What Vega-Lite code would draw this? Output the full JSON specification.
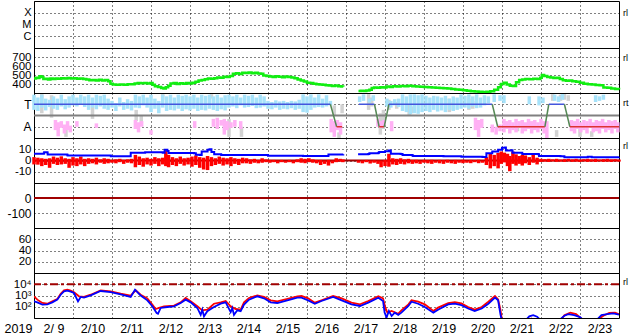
{
"$schema": "https://vega.github.io/schema/vega-lite/v6.json",
"padding": {"left": 3, "top": 0, "right": 14, "bottom": 0},
"spacing": 0,
"bounds": "flush",
"config": {
 "view": {"stroke": "black", "strokeWidth": 1},
 "axis": {"grid": true, "gridColor": "black", "gridDash": [1, 3], "gridOpacity": 1, "gridWidth": 1, "ticks": false, "domain": false, "labelFont": "Liberation Sans", "labelFontSize": 12, "labelColor": "black", "labelPadding": 3, "labelOverlap": false, "labelFlush": false, "labelBound": false},
 "text": {"font": "Liberation Sans"}
},
"vconcat": [
 {
  "width": 585, "height": 47,
  "layer": [
   {"data": {"values": [{"day": 15, "v": 0.0001, "t": "rl"}]},
    "mark": {"type": "text", "align": "left", "dx": 4, "baseline": "middle", "fontSize": 9},
    "encoding": {
     "x": {"field": "day", "type": "quantitative", "scale": {"domain": [0, 15], "nice": false, "zero": false}, "axis": {"values": [0,1,2,3,4,5,6,7,8,9,10,11,12,13,14], "labels": false, "title": null}},
     "y": {"field": "v", "type": "quantitative", "scale": {"type": "log", "domain": [1e-7, 0.001], "nice": false}, "axis": {"values": [0.0001, 0.00001, 0.000001], "labelOverlap": false, "labelFontSize": 11, "labelExpr": "datum.value > 0.00005 ? 'X' : datum.value > 0.000005 ? 'M' : 'C'", "title": null}},
     "text": {"field": "t"}}}
  ]
 },
 {
  "width": 585, "height": 45,
  "layer": [
   {"data": {"values": [
     {"day":0.00,"v":462,"s":1},{"day":0.05,"v":470,"s":1},{"day":0.10,"v":468,"s":1},{"day":0.14,"v":485,"s":1},{"day":0.19,"v":478,"s":1},{"day":0.24,"v":455,"s":1},{"day":0.30,"v":458,"s":1},{"day":0.36,"v":450,"s":1},{"day":0.42,"v":462,"s":1},{"day":0.48,"v":455,"s":1},{"day":0.55,"v":460,"s":1},{"day":0.62,"v":458,"s":1},{"day":0.70,"v":465,"s":1},{"day":0.78,"v":462,"s":1},{"day":0.86,"v":466,"s":1},{"day":0.94,"v":460,"s":1},{"day":1.02,"v":463,"s":1},{"day":1.10,"v":458,"s":1},{"day":1.18,"v":462,"s":1},{"day":1.26,"v":455,"s":1},{"day":1.34,"v":450,"s":1},{"day":1.42,"v":442,"s":1},{"day":1.50,"v":445,"s":1},{"day":1.58,"v":438,"s":1},{"day":1.66,"v":446,"s":1},{"day":1.74,"v":440,"s":1},{"day":1.82,"v":444,"s":1},{"day":1.90,"v":430,"s":1},{"day":1.96,"v":402,"s":1},{"day":2.02,"v":395,"s":1},{"day":2.10,"v":392,"s":1},{"day":2.20,"v":395,"s":1},{"day":2.30,"v":392,"s":1},{"day":2.40,"v":396,"s":1},{"day":2.50,"v":398,"s":1},{"day":2.58,"v":405,"s":1},{"day":2.66,"v":410,"s":1},{"day":2.74,"v":408,"s":1},{"day":2.82,"v":412,"s":1},{"day":2.90,"v":405,"s":1},{"day":2.98,"v":410,"s":1},{"day":3.04,"v":392,"s":1},{"day":3.10,"v":375,"s":1},{"day":3.18,"v":368,"s":1},{"day":3.26,"v":355,"s":1},{"day":3.32,"v":350,"s":1},{"day":3.38,"v":365,"s":1},{"day":3.44,"v":380,"s":1},{"day":3.50,"v":405,"s":1},{"day":3.58,"v":412,"s":1},{"day":3.66,"v":400,"s":1},{"day":3.74,"v":408,"s":1},{"day":3.82,"v":402,"s":1},{"day":3.90,"v":410,"s":1},{"day":3.98,"v":405,"s":1},{"day":4.06,"v":415,"s":1},{"day":4.14,"v":425,"s":1},{"day":4.22,"v":438,"s":1},{"day":4.30,"v":445,"s":1},{"day":4.38,"v":452,"s":1},{"day":4.46,"v":460,"s":1},{"day":4.54,"v":458,"s":1},{"day":4.62,"v":465,"s":1},{"day":4.70,"v":472,"s":1},{"day":4.78,"v":470,"s":1},{"day":4.86,"v":480,"s":1},{"day":4.94,"v":478,"s":1},{"day":5.02,"v":490,"s":1},{"day":5.10,"v":515,"s":1},{"day":5.18,"v":520,"s":1},{"day":5.26,"v":512,"s":1},{"day":5.34,"v":525,"s":1},{"day":5.42,"v":522,"s":1},{"day":5.50,"v":528,"s":1},{"day":5.58,"v":520,"s":1},{"day":5.66,"v":525,"s":1},{"day":5.74,"v":518,"s":1},{"day":5.82,"v":515,"s":1},{"day":5.88,"v":495,"s":1},{"day":5.96,"v":488,"s":1},{"day":6.04,"v":482,"s":1},{"day":6.12,"v":478,"s":1},{"day":6.20,"v":485,"s":1},{"day":6.28,"v":480,"s":1},{"day":6.36,"v":475,"s":1},{"day":6.44,"v":482,"s":1},{"day":6.52,"v":478,"s":1},{"day":6.60,"v":472,"s":1},{"day":6.68,"v":465,"s":1},{"day":6.76,"v":450,"s":1},{"day":6.84,"v":440,"s":1},{"day":6.92,"v":428,"s":1},{"day":7.00,"v":415,"s":1},{"day":7.08,"v":410,"s":1},{"day":7.16,"v":402,"s":1},{"day":7.24,"v":398,"s":1},{"day":7.32,"v":395,"s":1},{"day":7.40,"v":392,"s":1},{"day":7.48,"v":385,"s":1},{"day":7.56,"v":382,"s":1},{"day":7.64,"v":378,"s":1},{"day":7.72,"v":382,"s":1},{"day":7.80,"v":375,"s":1},{"day":7.88,"v":372,"s":1},{"day":7.93,"v":370,"s":1},
     {"day":8.32,"v":322,"s":2},{"day":8.38,"v":325,"s":2},{"day":8.45,"v":322,"s":2},{"day":8.52,"v":328,"s":2},{"day":8.60,"v":335,"s":2},{"day":8.66,"v":355,"s":2},{"day":8.72,"v":362,"s":2},{"day":8.80,"v":358,"s":2},{"day":8.88,"v":365,"s":2},{"day":8.96,"v":362,"s":2},{"day":9.04,"v":372,"s":2},{"day":9.12,"v":368,"s":2},{"day":9.20,"v":375,"s":2},{"day":9.30,"v":372,"s":2},{"day":9.40,"v":378,"s":2},{"day":9.50,"v":375,"s":2},{"day":9.60,"v":380,"s":2},{"day":9.70,"v":376,"s":2},{"day":9.80,"v":372,"s":2},{"day":9.90,"v":370,"s":2},{"day":10.00,"v":368,"s":2},{"day":10.10,"v":365,"s":2},{"day":10.20,"v":362,"s":2},{"day":10.30,"v":358,"s":2},{"day":10.40,"v":355,"s":2},{"day":10.50,"v":352,"s":2},{"day":10.60,"v":350,"s":2},{"day":10.70,"v":345,"s":2},{"day":10.80,"v":340,"s":2},{"day":10.90,"v":335,"s":2},{"day":11.00,"v":330,"s":2},{"day":11.10,"v":325,"s":2},{"day":11.20,"v":320,"s":2},{"day":11.30,"v":318,"s":2},{"day":11.40,"v":315,"s":2},{"day":11.50,"v":312,"s":2},{"day":11.60,"v":315,"s":2},{"day":11.70,"v":320,"s":2},{"day":11.80,"v":335,"s":2},{"day":11.90,"v":365,"s":2},{"day":11.97,"v":400,"s":2},{"day":12.04,"v":415,"s":2},{"day":12.12,"v":395,"s":2},{"day":12.20,"v":380,"s":2},{"day":12.28,"v":378,"s":2},{"day":12.36,"v":420,"s":2},{"day":12.44,"v":445,"s":2},{"day":12.52,"v":450,"s":2},{"day":12.60,"v":455,"s":2},{"day":12.70,"v":452,"s":2},{"day":12.80,"v":458,"s":2},{"day":12.90,"v":455,"s":2},{"day":12.98,"v":470,"s":2},{"day":13.02,"v":500,"s":2},{"day":13.08,"v":490,"s":2},{"day":13.16,"v":478,"s":2},{"day":13.24,"v":472,"s":2},{"day":13.32,"v":468,"s":2},{"day":13.40,"v":470,"s":2},{"day":13.48,"v":455,"s":2},{"day":13.56,"v":442,"s":2},{"day":13.64,"v":435,"s":2},{"day":13.72,"v":440,"s":2},{"day":13.80,"v":430,"s":2},{"day":13.90,"v":425,"s":2},{"day":14.00,"v":415,"s":2},{"day":14.10,"v":402,"s":2},{"day":14.20,"v":398,"s":2},{"day":14.30,"v":395,"s":2},{"day":14.40,"v":390,"s":2},{"day":14.50,"v":385,"s":2},{"day":14.60,"v":362,"s":2},{"day":14.70,"v":358,"s":2},{"day":14.80,"v":350,"s":2},{"day":14.90,"v":345,"s":2},{"day":15.00,"v":338,"s":2}
    ]},
    "mark": {"type": "line", "color": "#11ee11", "strokeWidth": 2.5, "interpolate": "step-after"},
    "encoding": {
     "x": {"field": "day", "type": "quantitative", "scale": {"domain": [0, 15], "nice": false, "zero": false}, "axis": {"values": [0,1,2,3,4,5,6,7,8,9,10,11,12,13,14], "labels": false, "title": null}},
     "y": {"field": "v", "type": "quantitative", "scale": {"domain": [300, 800], "nice": false, "zero": false}, "axis": {"values": [400, 500, 600, 700], "labelOverlap": false, "labelFontSize": 11.5, "title": null}},
     "detail": {"field": "s"}}},
   {"data": {"values": [{"day": 15, "v": 690, "t": "rl"}]},
    "mark": {"type": "text", "align": "left", "dx": 4, "baseline": "middle", "fontSize": 9},
    "encoding": {"x": {"field": "day", "type": "quantitative"}, "y": {"field": "v", "type": "quantitative", "axis": {"values": [400, 500, 600, 700], "labelOverlap": false, "labelFontSize": 11.5, "title": null}}, "text": {"field": "t"}}}
  ]
 },
 {
  "width": 585, "height": 45,
  "layer": [
   {"data": {"values": [
     {"day":0.2,"lo":0.2,"hi":1.9,"c":"g"},{"day":0.45,"lo":-0.2,"hi":1.8,"c":"g"},{"day":0.82,"lo":-1.9,"hi":-1.0,"c":"g"},{"day":1.5,"lo":-0.3,"hi":1.0,"c":"g"},{"day":2.62,"lo":-0.5,"hi":0.5,"c":"g"},{"day":2.75,"lo":-0.9,"hi":0.0,"c":"g"},{"day":3.3,"lo":1.4,"hi":1.9,"c":"g"},{"day":4.55,"lo":1.5,"hi":1.9,"c":"g"},{"day":5.0,"lo":-1.9,"hi":-0.3,"c":"g"},{"day":5.32,"lo":-1.9,"hi":-1.0,"c":"g"},{"day":7.7,"lo":0.0,"hi":0.9,"c":"g"},{"day":7.82,"lo":-2.0,"hi":-1.5,"c":"g"},{"day":7.9,"lo":0.2,"hi":1.0,"c":"g"},{"day":8.58,"lo":0.5,"hi":1.9,"c":"g"},{"day":8.66,"lo":0.8,"hi":1.6,"c":"g"},{"day":8.88,"lo":-1.7,"hi":0.2,"c":"g"},{"day":8.96,"lo":-1.2,"hi":0.5,"c":"g"},{"day":9.1,"lo":0.5,"hi":1.4,"c":"g"},{"day":9.3,"lo":0.6,"hi":1.2,"c":"g"},{"day":9.62,"lo":0.0,"hi":1.0,"c":"g"},{"day":9.68,"lo":0.2,"hi":0.8,"c":"g"},{"day":10.65,"lo":0.3,"hi":1.5,"c":"g"},{"day":10.75,"lo":0.5,"hi":1.2,"c":"g"},{"day":11.15,"lo":0.5,"hi":1.5,"c":"g"},{"day":11.25,"lo":0.6,"hi":1.3,"c":"g"},{"day":12.4,"lo":-1.4,"hi":-1.0,"c":"g"},{"day":13.3,"lo":1.3,"hi":1.9,"c":"g"},{"day":13.4,"lo":-1.9,"hi":-1.3,"c":"g"},{"day":13.5,"lo":1.3,"hi":1.85,"c":"g"},{"day":13.6,"lo":1.4,"hi":1.9,"c":"g"},{"day":13.7,"lo":1.3,"hi":1.8,"c":"g"},{"day":14.0,"lo":-1.9,"hi":-0.9,"c":"g"},{"day":14.3,"lo":-1.9,"hi":-1.4,"c":"g"},
     {"day":0.0,"lo":0.5,"hi":1.85,"c":"b"},{"day":0.1,"lo":0.4,"hi":1.6,"c":"b"},{"day":0.2,"lo":0.7,"hi":1.85,"c":"b"},{"day":0.3,"lo":0.45,"hi":1.5,"c":"b"},{"day":0.4,"lo":0.75,"hi":1.4,"c":"b"},{"day":0.5,"lo":0.6,"hi":1.7,"c":"b"},{"day":0.6,"lo":0.5,"hi":1.5,"c":"b"},{"day":0.7,"lo":0.8,"hi":1.85,"c":"b"},{"day":0.8,"lo":0.55,"hi":1.45,"c":"b"},{"day":0.9,"lo":0.7,"hi":1.7,"c":"b"},{"day":1.0,"lo":0.9,"hi":1.85,"c":"b"},{"day":1.1,"lo":0.8,"hi":1.6,"c":"b"},{"day":1.2,"lo":1.0,"hi":1.85,"c":"b"},{"day":1.3,"lo":0.75,"hi":1.7,"c":"b"},{"day":1.4,"lo":0.5,"hi":1.85,"c":"b"},{"day":1.5,"lo":0.7,"hi":1.6,"c":"b"},{"day":1.6,"lo":0.55,"hi":1.85,"c":"b"},{"day":1.7,"lo":0.8,"hi":1.75,"c":"b"},{"day":1.8,"lo":0.6,"hi":1.85,"c":"b"},{"day":1.9,"lo":0.5,"hi":1.5,"c":"b"},{"day":2.0,"lo":0.7,"hi":1.3,"c":"b"},{"day":2.1,"lo":0.4,"hi":1.1,"c":"b"},{"day":2.2,"lo":0.8,"hi":1.6,"c":"b"},{"day":2.3,"lo":0.5,"hi":1.2,"c":"b"},{"day":2.4,"lo":0.6,"hi":1.45,"c":"b"},{"day":2.5,"lo":0.45,"hi":1.3,"c":"b"},{"day":2.6,"lo":0.7,"hi":1.85,"c":"b"},{"day":2.7,"lo":0.65,"hi":1.7,"c":"b"},{"day":2.8,"lo":0.9,"hi":1.85,"c":"b"},{"day":2.9,"lo":0.7,"hi":1.6,"c":"b"},{"day":3.0,"lo":0.3,"hi":1.85,"c":"b"},{"day":3.1,"lo":0.6,"hi":1.5,"c":"b"},{"day":3.2,"lo":0.2,"hi":1.3,"c":"b"},{"day":3.3,"lo":0.7,"hi":1.85,"c":"b"},{"day":3.4,"lo":0.4,"hi":1.7,"c":"b"},{"day":3.5,"lo":0.5,"hi":1.85,"c":"b"},{"day":3.6,"lo":0.45,"hi":1.6,"c":"b"},{"day":3.7,"lo":0.6,"hi":1.85,"c":"b"},{"day":3.8,"lo":0.4,"hi":1.75,"c":"b"},{"day":3.9,"lo":0.55,"hi":1.85,"c":"b"},{"day":4.0,"lo":0.45,"hi":1.7,"c":"b"},{"day":4.1,"lo":0.6,"hi":1.85,"c":"b"},{"day":4.2,"lo":0.4,"hi":1.6,"c":"b"},{"day":4.3,"lo":0.5,"hi":1.85,"c":"b"},{"day":4.4,"lo":0.45,"hi":1.75,"c":"b"},{"day":4.5,"lo":0.6,"hi":1.85,"c":"b"},{"day":4.6,"lo":0.5,"hi":1.7,"c":"b"},{"day":4.7,"lo":0.4,"hi":1.85,"c":"b"},{"day":4.8,"lo":0.55,"hi":1.6,"c":"b"},{"day":4.9,"lo":0.45,"hi":1.8,"c":"b"},{"day":5.0,"lo":0.7,"hi":1.85,"c":"b"},{"day":5.1,"lo":0.8,"hi":1.7,"c":"b"},{"day":5.2,"lo":0.65,"hi":1.85,"c":"b"},{"day":5.3,"lo":0.9,"hi":1.6,"c":"b"},{"day":5.4,"lo":0.7,"hi":1.85,"c":"b"},{"day":5.5,"lo":0.75,"hi":1.75,"c":"b"},{"day":5.6,"lo":0.85,"hi":1.85,"c":"b"},{"day":5.7,"lo":0.65,"hi":1.6,"c":"b"},{"day":5.8,"lo":0.7,"hi":1.85,"c":"b"},{"day":5.9,"lo":0.8,"hi":1.7,"c":"b"},{"day":6.0,"lo":0.6,"hi":1.3,"c":"b"},{"day":6.1,"lo":0.55,"hi":1.2,"c":"b"},{"day":6.2,"lo":0.7,"hi":1.35,"c":"b"},{"day":6.3,"lo":0.5,"hi":1.25,"c":"b"},{"day":6.4,"lo":0.6,"hi":1.3,"c":"b"},{"day":6.5,"lo":0.55,"hi":1.2,"c":"b"},{"day":6.6,"lo":0.65,"hi":1.3,"c":"b"},{"day":6.7,"lo":0.5,"hi":1.25,"c":"b"},{"day":6.8,"lo":0.6,"hi":1.4,"c":"b"},{"day":6.9,"lo":0.3,"hi":1.88,"c":"b"},{"day":7.0,"lo":0.25,"hi":1.7,"c":"b"},{"day":7.1,"lo":0.5,"hi":1.88,"c":"b"},{"day":7.2,"lo":0.7,"hi":1.6,"c":"b"},{"day":7.3,"lo":0.75,"hi":1.88,"c":"b"},{"day":7.4,"lo":0.7,"hi":1.5,"c":"b"},{"day":7.5,"lo":0.8,"hi":1.8,"c":"b"},{"day":7.6,"lo":0.9,"hi":1.3,"c":"b"},{"day":8.35,"lo":1.2,"hi":1.7,"c":"b"},{"day":8.45,"lo":1.3,"hi":1.88,"c":"b"},{"day":8.6,"lo":1.15,"hi":1.5,"c":"b"},{"day":8.7,"lo":1.3,"hi":1.8,"c":"b"},{"day":9.05,"lo":0.8,"hi":1.5,"c":"b"},{"day":9.15,"lo":0.7,"hi":1.3,"c":"b"},{"day":9.25,"lo":0.9,"hi":1.45,"c":"b"},{"day":9.35,"lo":0.75,"hi":1.5,"c":"b"},{"day":9.45,"lo":0.4,"hi":1.88,"c":"b"},{"day":9.55,"lo":0.3,"hi":1.7,"c":"b"},{"day":9.65,"lo":0.1,"hi":1.88,"c":"b"},{"day":9.75,"lo":0.2,"hi":1.88,"c":"b"},{"day":9.85,"lo":0.15,"hi":1.8,"c":"b"},{"day":9.95,"lo":0.3,"hi":1.88,"c":"b"},{"day":10.05,"lo":0.4,"hi":1.75,"c":"b"},{"day":10.15,"lo":0.3,"hi":1.6,"c":"b"},{"day":10.25,"lo":0.5,"hi":1.75,"c":"b"},{"day":10.35,"lo":0.35,"hi":1.7,"c":"b"},{"day":10.45,"lo":0.45,"hi":1.6,"c":"b"},{"day":10.55,"lo":0.3,"hi":1.75,"c":"b"},{"day":10.65,"lo":0.5,"hi":1.5,"c":"b"},{"day":10.75,"lo":0.4,"hi":1.7,"c":"b"},{"day":10.85,"lo":0.5,"hi":1.6,"c":"b"},{"day":10.95,"lo":0.6,"hi":1.88,"c":"b"},{"day":11.05,"lo":0.7,"hi":1.75,"c":"b"},{"day":11.15,"lo":0.6,"hi":1.88,"c":"b"},{"day":11.25,"lo":0.8,"hi":1.7,"c":"b"},{"day":11.35,"lo":0.65,"hi":1.88,"c":"b"},{"day":11.45,"lo":0.7,"hi":1.6,"c":"b"},{"day":11.55,"lo":0.9,"hi":1.8,"c":"b"},{"day":11.65,"lo":1.1,"hi":1.7,"c":"b"},{"day":11.8,"lo":1.2,"hi":1.88,"c":"b"},{"day":11.95,"lo":1.3,"hi":1.8,"c":"b"},{"day":12.05,"lo":1.1,"hi":1.8,"c":"b"},{"day":12.7,"lo":1.0,"hi":1.7,"c":"b"},{"day":12.95,"lo":0.9,"hi":1.7,"c":"b"},{"day":13.05,"lo":1.1,"hi":1.6,"c":"b"},{"day":13.35,"lo":1.3,"hi":1.85,"c":"b"},{"day":13.45,"lo":1.2,"hi":1.7,"c":"b"},{"day":13.55,"lo":1.4,"hi":1.9,"c":"b"},{"day":14.4,"lo":1.2,"hi":1.8,"c":"b"},{"day":14.5,"lo":1.3,"hi":1.7,"c":"b"},{"day":14.6,"lo":1.4,"hi":1.85,"c":"b"},
     {"day":0.55,"lo":-1.3,"hi":-0.4,"c":"p"},{"day":0.62,"lo":-1.85,"hi":-0.6,"c":"p"},{"day":0.7,"lo":-1.1,"hi":-0.5,"c":"p"},{"day":0.78,"lo":-1.6,"hi":-0.8,"c":"p"},{"day":0.86,"lo":-1.3,"hi":-0.5,"c":"p"},{"day":0.93,"lo":-1.5,"hi":-0.9,"c":"p"},{"day":1.1,"lo":-1.0,"hi":-0.5,"c":"p"},{"day":1.6,"lo":-1.1,"hi":-0.7,"c":"p"},{"day":2.6,"lo":-1.2,"hi":-0.4,"c":"p"},{"day":2.68,"lo":-1.5,"hi":-0.6,"c":"p"},{"day":2.76,"lo":-1.0,"hi":-0.5,"c":"p"},{"day":3.0,"lo":-1.7,"hi":-1.3,"c":"p"},{"day":4.12,"lo":-1.1,"hi":-0.5,"c":"p"},{"day":4.6,"lo":-1.0,"hi":-0.3,"c":"p"},{"day":4.7,"lo":-1.2,"hi":-0.2,"c":"p"},{"day":4.8,"lo":-0.9,"hi":-0.4,"c":"p"},{"day":4.88,"lo":-1.7,"hi":-0.3,"c":"p"},{"day":4.95,"lo":-1.3,"hi":-0.5,"c":"p"},{"day":5.05,"lo":-1.1,"hi":-0.6,"c":"p"},{"day":5.15,"lo":-1.0,"hi":-0.4,"c":"p"},{"day":5.3,"lo":-1.2,"hi":-0.5,"c":"p"},{"day":7.62,"lo":-1.5,"hi":-0.3,"c":"p"},{"day":7.7,"lo":-1.9,"hi":-0.5,"c":"p"},{"day":7.78,"lo":-1.3,"hi":-0.4,"c":"p"},{"day":7.86,"lo":-1.7,"hi":-0.6,"c":"p"},{"day":8.82,"lo":-1.0,"hi":-0.3,"c":"p"},{"day":8.9,"lo":-1.1,"hi":-0.5,"c":"p"},{"day":8.97,"lo":-0.9,"hi":-0.4,"c":"p"},{"day":9.17,"lo":-1.4,"hi":-0.5,"c":"p"},{"day":11.32,"lo":-1.3,"hi":-0.2,"c":"p"},{"day":11.4,"lo":-1.9,"hi":-0.4,"c":"p"},{"day":11.48,"lo":-1.1,"hi":-0.3,"c":"p"},{"day":11.75,"lo":-1.5,"hi":-0.8,"c":"p"},{"day":11.85,"lo":-1.7,"hi":-1.0,"c":"p"},{"day":11.95,"lo":-1.4,"hi":-0.8,"c":"p"},{"day":12.05,"lo":-1.5,"hi":-0.3,"c":"p"},{"day":12.12,"lo":-1.2,"hi":-0.5,"c":"p"},{"day":12.2,"lo":-1.6,"hi":-0.4,"c":"p"},{"day":12.28,"lo":-1.3,"hi":-0.6,"c":"p"},{"day":12.36,"lo":-1.5,"hi":-0.3,"c":"p"},{"day":12.44,"lo":-1.1,"hi":-0.5,"c":"p"},{"day":12.52,"lo":-1.6,"hi":-0.4,"c":"p"},{"day":12.6,"lo":-1.4,"hi":-0.6,"c":"p"},{"day":12.68,"lo":-1.2,"hi":-0.3,"c":"p"},{"day":12.76,"lo":-1.6,"hi":-0.5,"c":"p"},{"day":12.84,"lo":-1.3,"hi":-0.4,"c":"p"},{"day":12.92,"lo":-1.5,"hi":-0.6,"c":"p"},{"day":13.0,"lo":-1.2,"hi":-0.3,"c":"p"},{"day":13.08,"lo":-1.6,"hi":-0.5,"c":"p"},{"day":13.15,"lo":-2.0,"hi":-0.5,"c":"p"},{"day":13.78,"lo":-1.4,"hi":-0.4,"c":"p"},{"day":13.86,"lo":-1.6,"hi":-0.5,"c":"p"},{"day":13.94,"lo":-1.2,"hi":-0.3,"c":"p"},{"day":14.02,"lo":-1.5,"hi":-0.6,"c":"p"},{"day":14.1,"lo":-1.3,"hi":-0.4,"c":"p"},{"day":14.18,"lo":-1.6,"hi":-0.5,"c":"p"},{"day":14.26,"lo":-1.1,"hi":-0.3,"c":"p"},{"day":14.34,"lo":-1.5,"hi":-0.6,"c":"p"},{"day":14.42,"lo":-1.4,"hi":-0.4,"c":"p"},{"day":14.5,"lo":-1.6,"hi":-0.5,"c":"p"},{"day":14.58,"lo":-1.2,"hi":-0.3,"c":"p"},{"day":14.66,"lo":-1.5,"hi":-0.6,"c":"p"},{"day":14.74,"lo":-1.3,"hi":-0.4,"c":"p"},{"day":14.82,"lo":-1.6,"hi":-0.5,"c":"p"},{"day":14.9,"lo":-1.2,"hi":-0.4,"c":"p"},{"day":14.97,"lo":-1.5,"hi":-0.6,"c":"p"}
    ]},
    "mark": {"type": "rule", "strokeWidth": 3.5},
    "encoding": {
     "x": {"field": "day", "type": "quantitative", "scale": {"domain": [0, 15], "nice": false, "zero": false}, "axis": {"values": [0,1,2,3,4,5,6,7,8,9,10,11,12,13,14], "labels": false, "title": null}},
     "y": {"field": "lo", "type": "quantitative", "scale": {"domain": [-2, 2], "nice": false, "zero": false}, "axis": {"values": [1, -1], "labelOverlap": false, "labelExpr": "datum.value > 0 ? 'T' : 'A'", "title": null}},
     "y2": {"field": "hi"},
     "color": {"field": "c", "type": "nominal", "scale": {"domain": ["g", "b", "p", "T", "A", "X"], "range": ["#d2d2d2", "#a6e2fa", "#ffb0f4", "#4455dd", "#dd3333", "#558855"]}, "legend": null}}},
   {"data": {"values": [{}]},
    "mark": {"type": "rule", "color": "#808080", "strokeWidth": 2},
    "encoding": {"y": {"datum": 0, "type": "quantitative", "axis": {"values": [1, -1], "labelOverlap": false, "labelExpr": "datum.value > 0 ? 'T' : 'A'", "title": null}}}},
   {"data": {"values": [
     {"day":0,"v":1,"s":1,"c":"T"},{"day":7.6,"v":1,"s":1,"c":"T"},
     {"day":7.6,"v":1,"s":2,"c":"X"},{"day":7.76,"v":-1,"s":2,"c":"X"},
     {"day":7.76,"v":-1,"s":3,"c":"A"},{"day":7.9,"v":-1,"s":3,"c":"A"},
     {"day":8.33,"v":1,"s":4,"c":"T"},{"day":8.73,"v":1,"s":4,"c":"T"},
     {"day":8.73,"v":1,"s":5,"c":"X"},{"day":8.85,"v":-1,"s":5,"c":"X"},
     {"day":8.85,"v":-1,"s":6,"c":"A"},{"day":8.98,"v":-1,"s":6,"c":"A"},
     {"day":8.98,"v":-1,"s":7,"c":"X"},{"day":9.1,"v":1,"s":7,"c":"X"},
     {"day":9.1,"v":1,"s":8,"c":"T"},{"day":11.75,"v":1,"s":8,"c":"T"},
     {"day":11.75,"v":1,"s":9,"c":"X"},{"day":11.89,"v":-1,"s":9,"c":"X"},
     {"day":11.89,"v":-1,"s":10,"c":"A"},{"day":13.1,"v":-1,"s":10,"c":"A"},
     {"day":13.1,"v":-1,"s":11,"c":"X"},{"day":13.2,"v":1,"s":11,"c":"X"},
     {"day":13.2,"v":1,"s":12,"c":"T"},{"day":13.6,"v":1,"s":12,"c":"T"},
     {"day":13.6,"v":1,"s":13,"c":"X"},{"day":13.74,"v":-1,"s":13,"c":"X"},
     {"day":13.74,"v":-1,"s":14,"c":"A"},{"day":15,"v":-1,"s":14,"c":"A"}
    ]},
    "mark": {"type": "line", "strokeWidth": 1.5},
    "encoding": {
     "x": {"field": "day", "type": "quantitative"},
     "y": {"field": "v", "type": "quantitative", "axis": {"values": [1, -1], "labelOverlap": false, "labelExpr": "datum.value > 0 ? 'T' : 'A'", "title": null}},
     "color": {"field": "c", "type": "nominal", "legend": null},
     "detail": {"field": "s"}}},
   {"data": {"values": [{"day": 15, "v": 1.1, "t": "rt"}]},
    "mark": {"type": "text", "align": "left", "dx": 4, "baseline": "middle", "fontSize": 9},
    "encoding": {"x": {"field": "day", "type": "quantitative"}, "y": {"field": "v", "type": "quantitative", "axis": {"values": [1, -1], "labelOverlap": false, "labelExpr": "datum.value > 0 ? 'T' : 'A'", "title": null}}, "text": {"field": "t"}}}
  ]
 },
 {
  "width": 585, "height": 45,
  "layer": [
   {"data": {"values": [{}]},
    "mark": {"type": "rule", "color": "#a00000", "strokeWidth": 2},
    "encoding": {"y": {"datum": 0, "type": "quantitative", "scale": {"domain": [-20, 20], "nice": false, "zero": false}, "axis": {"values": [10, 0, -10], "labelOverlap": false, "labelFontSize": 11.5, "labelExpr": "'' + datum.value", "title": null}}}},
   {"data": {"values": [
     {"day":0.0,"lo":-3.5,"hi":3.0},{"day":0.1,"lo":-3.7,"hi":2.5},{"day":0.2,"lo":-5.0,"hi":2.0},{"day":0.3,"lo":-4.0,"hi":1.5},{"day":0.4,"lo":-6.5,"hi":2.0},{"day":0.5,"lo":-3.0,"hi":3.5},{"day":0.6,"lo":-4.0,"hi":2.5},{"day":0.7,"lo":-3.5,"hi":3.7},{"day":0.8,"lo":-3.0,"hi":2.0},{"day":0.9,"lo":-6.5,"hi":1.5},{"day":1.0,"lo":-4.5,"hi":3.0},{"day":1.1,"lo":-5.0,"hi":2.0},{"day":1.2,"lo":-3.5,"hi":3.5},{"day":1.3,"lo":-5.0,"hi":1.5},{"day":1.4,"lo":-3.0,"hi":2.0},{"day":1.5,"lo":-2.5,"hi":1.5},{"day":1.6,"lo":-3.5,"hi":2.5},{"day":1.7,"lo":-2.0,"hi":1.0},{"day":1.8,"lo":-3.0,"hi":2.0},{"day":1.9,"lo":-2.5,"hi":1.5},{"day":2.0,"lo":-2.0,"hi":0.5},{"day":2.1,"lo":-2.5,"hi":1.0},{"day":2.2,"lo":-1.5,"hi":1.5},{"day":2.3,"lo":-3.0,"hi":0.5},{"day":2.4,"lo":-2.0,"hi":1.0},{"day":2.5,"lo":-2.5,"hi":1.5},{"day":2.6,"lo":-6.0,"hi":5.0},{"day":2.7,"lo":-4.0,"hi":3.5},{"day":2.8,"lo":-5.5,"hi":2.0},{"day":2.9,"lo":-3.5,"hi":2.5},{"day":3.0,"lo":-4.5,"hi":1.5},{"day":3.1,"lo":-3.0,"hi":3.0},{"day":3.2,"lo":-5.0,"hi":2.0},{"day":3.3,"lo":-3.5,"hi":2.5},{"day":3.38,"lo":-5.0,"hi":9.0},{"day":3.45,"lo":-6.0,"hi":5.0},{"day":3.55,"lo":-4.0,"hi":3.0},{"day":3.65,"lo":-5.0,"hi":2.0},{"day":3.75,"lo":-3.0,"hi":3.5},{"day":3.85,"lo":-4.5,"hi":2.0},{"day":3.95,"lo":-3.5,"hi":2.5},{"day":4.05,"lo":-5.5,"hi":3.5},{"day":4.15,"lo":-4.0,"hi":4.5},{"day":4.25,"lo":-6.5,"hi":3.0},{"day":4.35,"lo":-8.0,"hi":2.5},{"day":4.45,"lo":-8.5,"hi":4.0},{"day":4.55,"lo":-5.0,"hi":3.0},{"day":4.65,"lo":-4.0,"hi":2.0},{"day":4.75,"lo":-3.0,"hi":3.5},{"day":4.85,"lo":-4.5,"hi":2.5},{"day":4.95,"lo":-3.5,"hi":2.0},{"day":5.05,"lo":-5.0,"hi":3.0},{"day":5.15,"lo":-3.0,"hi":2.0},{"day":5.25,"lo":-4.0,"hi":1.5},{"day":5.35,"lo":-2.5,"hi":2.5},{"day":5.45,"lo":-2.5,"hi":2.0},{"day":5.55,"lo":-3.0,"hi":1.0},{"day":5.65,"lo":-2.0,"hi":1.5},{"day":5.75,"lo":-2.5,"hi":0.5},{"day":5.85,"lo":-2.0,"hi":2.0},{"day":5.95,"lo":-1.5,"hi":1.0},{"day":6.05,"lo":-2.0,"hi":0.5},{"day":6.15,"lo":-1.5,"hi":0.5},{"day":6.25,"lo":-2.5,"hi":0.0},{"day":6.35,"lo":-1.5,"hi":0.5},{"day":6.45,"lo":-2.0,"hi":-0.2},{"day":6.55,"lo":-1.5,"hi":0.5},{"day":6.65,"lo":-2.5,"hi":0.0},{"day":6.75,"lo":-1.5,"hi":1.0},{"day":6.85,"lo":-2.0,"hi":2.0},{"day":6.95,"lo":-2.4,"hi":1.5},{"day":7.05,"lo":-1.5,"hi":2.0},{"day":7.15,"lo":-2.0,"hi":1.0},{"day":7.25,"lo":-2.5,"hi":0.5},{"day":7.35,"lo":-4.0,"hi":0.5},{"day":7.45,"lo":-3.0,"hi":0.0},{"day":7.55,"lo":-4.5,"hi":0.5},{"day":7.65,"lo":-2.5,"hi":0.0},{"day":7.75,"lo":-1.5,"hi":2.0},{"day":7.85,"lo":-1.0,"hi":1.5},{"day":7.92,"lo":-1.5,"hi":1.0},
     {"day":8.32,"lo":-2.0,"hi":0.0},{"day":8.42,"lo":-2.5,"hi":0.0},{"day":8.52,"lo":-1.5,"hi":0.5},{"day":8.62,"lo":-2.7,"hi":0.0},{"day":8.72,"lo":-2.0,"hi":0.3},{"day":8.82,"lo":-3.0,"hi":0.0},{"day":8.9,"lo":-6.0,"hi":0.0},{"day":9.0,"lo":-5.0,"hi":0.5},{"day":9.1,"lo":-5.5,"hi":6.0},{"day":9.2,"lo":-3.5,"hi":2.0},{"day":9.3,"lo":-4.0,"hi":1.5},{"day":9.4,"lo":-3.0,"hi":2.0},{"day":9.5,"lo":-3.5,"hi":1.0},{"day":9.6,"lo":-2.5,"hi":1.5},{"day":9.7,"lo":-3.0,"hi":0.5},{"day":9.8,"lo":-2.5,"hi":0.6},{"day":9.9,"lo":-3.0,"hi":0.0},{"day":10.0,"lo":-2.0,"hi":0.5},{"day":10.1,"lo":-2.5,"hi":0.3},{"day":10.2,"lo":-3.0,"hi":0.6},{"day":10.3,"lo":-2.0,"hi":0.0},{"day":10.4,"lo":-2.5,"hi":0.5},{"day":10.5,"lo":-3.0,"hi":0.3},{"day":10.6,"lo":-2.0,"hi":0.6},{"day":10.7,"lo":-2.5,"hi":0.0},{"day":10.8,"lo":-3.0,"hi":0.5},{"day":10.9,"lo":-2.0,"hi":0.3},{"day":11.0,"lo":-2.4,"hi":0.6},{"day":11.1,"lo":-2.0,"hi":0.0},{"day":11.2,"lo":-2.4,"hi":0.5},{"day":11.3,"lo":-1.5,"hi":0.3},{"day":11.4,"lo":-2.4,"hi":0.6},{"day":11.5,"lo":-2.0,"hi":0.0},{"day":11.6,"lo":-4.0,"hi":3.0},{"day":11.7,"lo":-7.0,"hi":6.5},{"day":11.8,"lo":-5.0,"hi":5.0},{"day":11.9,"lo":-7.0,"hi":6.7},{"day":11.98,"lo":-3.0,"hi":8.0},{"day":12.06,"lo":-1.7,"hi":7.0},{"day":12.14,"lo":-5.0,"hi":6.0},{"day":12.2,"lo":-9.5,"hi":4.0},{"day":12.28,"lo":-3.0,"hi":8.0},{"day":12.36,"lo":-4.5,"hi":5.5},{"day":12.44,"lo":-3.0,"hi":4.0},{"day":12.52,"lo":-4.5,"hi":5.0},{"day":12.6,"lo":-2.5,"hi":4.5},{"day":12.7,"lo":-4.0,"hi":3.0},{"day":12.8,"lo":-2.0,"hi":5.5},{"day":12.9,"lo":-3.5,"hi":2.5},{"day":13.0,"lo":-1.3,"hi":1.5},{"day":13.1,"lo":-1.0,"hi":1.2},{"day":13.2,"lo":-1.3,"hi":1.5},{"day":13.3,"lo":-0.8,"hi":1.0},{"day":13.4,"lo":-1.2,"hi":1.5},{"day":13.5,"lo":-1.0,"hi":0.8},{"day":13.6,"lo":-1.3,"hi":1.2},{"day":13.7,"lo":-0.8,"hi":1.5},{"day":13.8,"lo":-1.2,"hi":1.0},{"day":13.9,"lo":-1.0,"hi":1.5},{"day":14.0,"lo":-1.3,"hi":0.8},{"day":14.1,"lo":-0.8,"hi":1.2},{"day":14.2,"lo":-1.2,"hi":1.5},{"day":14.3,"lo":-1.0,"hi":1.0},{"day":14.4,"lo":-1.3,"hi":1.5},{"day":14.5,"lo":-0.8,"hi":0.8},{"day":14.6,"lo":-1.2,"hi":1.2},{"day":14.7,"lo":-1.0,"hi":1.5},{"day":14.8,"lo":-1.3,"hi":1.0},{"day":14.9,"lo":-0.8,"hi":1.2},{"day":15.0,"lo":-1.0,"hi":0.8}
    ]},
    "mark": {"type": "rule", "color": "#ff0000", "strokeWidth": 3.5},
    "encoding": {
     "x": {"field": "day", "type": "quantitative", "scale": {"domain": [0, 15], "nice": false, "zero": false}, "axis": {"values": [0,1,2,3,4,5,6,7,8,9,10,11,12,13,14], "labels": false, "title": null}},
     "y": {"field": "lo", "type": "quantitative", "axis": {"values": [10, 0, -10], "labelOverlap": false, "labelFontSize": 11.5, "labelExpr": "'' + datum.value", "title": null}},
     "y2": {"field": "hi"}}},
   {"data": {"values": [
     {"day":0.0,"v":6.0,"s":1},{"day":0.25,"v":6.2,"s":1},{"day":0.26,"v":7.4,"s":1},{"day":0.34,"v":7.2,"s":1},{"day":0.35,"v":5.3,"s":1},{"day":0.85,"v":5.2,"s":1},{"day":0.86,"v":4.4,"s":1},{"day":1.9,"v":4.4,"s":1},{"day":1.97,"v":3.7,"s":1},{"day":2.4,"v":3.8,"s":1},{"day":2.48,"v":7.0,"s":1},{"day":2.6,"v":6.8,"s":1},{"day":2.85,"v":7.3,"s":1},{"day":3.3,"v":7.0,"s":1},{"day":3.35,"v":9.6,"s":1},{"day":3.42,"v":8.5,"s":1},{"day":3.45,"v":6.7,"s":1},{"day":4.1,"v":6.5,"s":1},{"day":4.15,"v":5.2,"s":1},{"day":4.25,"v":5.0,"s":1},{"day":4.3,"v":8.0,"s":1},{"day":4.45,"v":9.6,"s":1},{"day":4.5,"v":10.0,"s":1},{"day":4.55,"v":7.5,"s":1},{"day":4.62,"v":5.5,"s":1},{"day":4.8,"v":4.8,"s":1},{"day":5.9,"v":4.8,"s":1},{"day":6.0,"v":4.3,"s":1},{"day":6.9,"v":4.0,"s":1},{"day":7.5,"v":4.1,"s":1},{"day":7.55,"v":5.4,"s":1},{"day":7.93,"v":5.5,"s":1},
     {"day":8.31,"v":5.5,"s":2},{"day":8.57,"v":5.7,"s":2},{"day":8.6,"v":6.5,"s":2},{"day":8.83,"v":6.8,"s":2},{"day":8.85,"v":7.6,"s":2},{"day":9.0,"v":8.2,"s":2},{"day":9.1,"v":8.8,"s":2},{"day":9.15,"v":6.0,"s":2},{"day":9.4,"v":5.8,"s":2},{"day":9.45,"v":5.0,"s":2},{"day":9.7,"v":4.5,"s":2},{"day":9.72,"v":4.0,"s":2},{"day":10.5,"v":3.8,"s":2},{"day":10.96,"v":3.3,"s":2},{"day":11.5,"v":3.2,"s":2},{"day":11.6,"v":6.5,"s":2},{"day":11.75,"v":8.0,"s":2},{"day":11.9,"v":9.5,"s":2},{"day":12.0,"v":11.4,"s":2},{"day":12.08,"v":11.5,"s":2},{"day":12.1,"v":9.0,"s":2},{"day":12.25,"v":9.2,"s":2},{"day":12.27,"v":7.0,"s":2},{"day":12.5,"v":6.8,"s":2},{"day":12.52,"v":5.8,"s":2},{"day":12.93,"v":5.5,"s":2},{"day":12.95,"v":4.0,"s":2},{"day":13.5,"v":3.8,"s":2},{"day":13.6,"v":3.0,"s":2},{"day":14.2,"v":3.3,"s":2},{"day":14.3,"v":2.8,"s":2},{"day":15.0,"v":3.0,"s":2}
    ]},
    "mark": {"type": "line", "color": "#0000ff", "strokeWidth": 2, "interpolate": "step-after"},
    "encoding": {"x": {"field": "day", "type": "quantitative"}, "y": {"field": "v", "type": "quantitative", "axis": {"values": [10, 0, -10], "labelOverlap": false, "labelFontSize": 11.5, "labelExpr": "'' + datum.value", "title": null}}, "detail": {"field": "s"}}},
   {"data": {"values": [{"day": 15, "v": 13, "t": "rl"}]},
    "mark": {"type": "text", "align": "left", "dx": 4, "baseline": "middle", "fontSize": 9},
    "encoding": {"x": {"field": "day", "type": "quantitative"}, "y": {"field": "v", "type": "quantitative", "axis": {"values": [10, 0, -10], "labelOverlap": false, "labelFontSize": 11.5, "labelExpr": "'' + datum.value", "title": null}}, "text": {"field": "t"}}}
  ]
 },
 {
  "width": 585, "height": 45,
  "layer": [
   {"data": {"values": []},
    "mark": "point",
    "encoding": {
     "x": {"field": "day", "type": "quantitative", "scale": {"domain": [0, 15], "nice": false, "zero": false}, "axis": {"values": [0,1,2,3,4,5,6,7,8,9,10,11,12,13,14], "labels": false, "title": null}},
     "y": {"field": "v", "type": "quantitative", "scale": {"domain": [-200, 100], "nice": false, "zero": false}, "axis": {"values": [0, -100], "labelOverlap": false, "labelExpr": "'' + datum.value", "title": null}}}},
   {"data": {"values": [{}]},
    "mark": {"type": "rule", "color": "#a00000", "strokeWidth": 2},
    "encoding": {"y": {"datum": 0, "type": "quantitative", "axis": {"values": [0, -100], "labelOverlap": false, "labelExpr": "'' + datum.value", "title": null}}}}
  ]
 },
 {
  "width": 585, "height": 45,
  "layer": [
   {"data": {"values": []},
    "mark": "point",
    "encoding": {
     "x": {"field": "day", "type": "quantitative", "scale": {"domain": [0, 15], "nice": false, "zero": false}, "axis": {"values": [0,1,2,3,4,5,6,7,8,9,10,11,12,13,14], "labels": false, "title": null}},
     "y": {"field": "v", "type": "quantitative", "scale": {"domain": [0, 80], "nice": false, "zero": false}, "axis": {"values": [20, 40, 60], "labelOverlap": false, "labelFontSize": 11.5, "title": null}}}}
  ]
 },
 {
  "width": 585, "height": 45,
  "layer": [
   {"data": {"values": [{}]},
    "mark": {"type": "rule", "color": "#a00000", "strokeWidth": 2, "strokeDash": [8, 3, 3, 3]},
    "encoding": {"y": {"datum": 10000, "type": "quantitative", "scale": {"type": "log", "domain": [10, 100000], "nice": false}, "axis": {"values": [10000, 1000, 100], "labelOverlap": false, "labelFontSize": 11.5, "labelExpr": "datum.value == 10000 ? '10⁴' : datum.value == 1000 ? '10³' : '10²'", "title": null}}}},
   {"data": {"values": [
     {"day":0.0,"v":850},{"day":0.085,"v":427},{"day":0.214,"v":215},{"day":0.342,"v":186},{"day":0.47,"v":302},{"day":0.598,"v":490},{"day":0.684,"v":1445},{"day":0.769,"v":2880},{"day":0.855,"v":3300},{"day":0.94,"v":2690},{"day":1.026,"v":1900},{"day":1.154,"v":850},{"day":1.282,"v":740},{"day":1.453,"v":1175},{"day":1.709,"v":2880},{"day":1.966,"v":2340},{"day":2.222,"v":1445},{"day":2.479,"v":980},{"day":2.607,"v":2880},{"day":2.735,"v":1175},{"day":2.906,"v":560},{"day":3.034,"v":155},{"day":3.12,"v":63},{"day":3.205,"v":78},{"day":3.333,"v":110},{"day":3.59,"v":126},{"day":3.761,"v":245},{"day":3.889,"v":600},{"day":4.017,"v":302},{"day":4.188,"v":110},{"day":4.316,"v":48},{"day":4.444,"v":55},{"day":4.615,"v":186},{"day":4.786,"v":245},{"day":4.915,"v":324},{"day":5.043,"v":110},{"day":5.171,"v":63},{"day":5.299,"v":55},{"day":5.385,"v":245},{"day":5.513,"v":600},{"day":5.726,"v":1020},{"day":5.897,"v":740},{"day":6.068,"v":372},{"day":6.239,"v":302},{"day":6.496,"v":490},{"day":6.752,"v":850},{"day":6.86,"v":900},{"day":7.03,"v":560},{"day":7.2,"v":230},{"day":7.37,"v":372},{"day":7.67,"v":900},{"day":7.89,"v":560},{"day":8.14,"v":230},{"day":8.36,"v":162},{"day":8.57,"v":324},{"day":8.83,"v":850},{"day":8.95,"v":560},{"day":9.01,"v":83},{"day":9.06,"v":30},{"day":9.17,"v":42},{"day":9.34,"v":24},{"day":9.42,"v":48},{"day":9.6,"v":162},{"day":9.68,"v":372},{"day":9.85,"v":280},{"day":10.02,"v":162},{"day":10.24,"v":42},{"day":10.36,"v":83},{"day":10.62,"v":210},{"day":10.79,"v":250},{"day":10.96,"v":200},{"day":11.13,"v":95},{"day":11.3,"v":55},{"day":11.48,"v":95},{"day":11.65,"v":280},{"day":11.82,"v":900},{"day":11.9,"v":457},{"day":11.96,"v":55},{"day":11.99,"v":11},{"day":12.03,"v":3},{"day":12.6,"v":4},{"day":12.75,"v":9},{"day":12.9,"v":5},{"day":13.5,"v":6},{"day":13.6,"v":18},{"day":13.75,"v":30},{"day":13.9,"v":22},{"day":14.05,"v":8},{"day":14.45,"v":7},{"day":14.6,"v":16},{"day":14.75,"v":28},{"day":14.9,"v":30},{"day":15.0,"v":22}
    ]},
    "mark": {"type": "line", "color": "#ff0000", "strokeWidth": 1.8, "clip": true},
    "encoding": {
     "x": {"field": "day", "type": "quantitative", "scale": {"domain": [0, 15], "nice": false, "zero": false}, "axis": {"values": [0,1,2,3,4,5,6,7,8,9,10,11,12,13,14], "labelOffset": 19.5, "labelOverlap": false, "labelExpr": "datum.value < 1 ? '2/ 9' : '2/' + (datum.value + 9)", "labelFont": "Liberation Sans", "labelFontSize": 12.5, "labelPadding": 4, "title": "2019", "titleX": -16, "titleY": 4, "titleBaseline": "top", "titleAlign": "center", "titleFontWeight": "normal", "titleFont": "Liberation Sans", "titleFontSize": 12.5, "titleColor": "black"}},
     "y": {"field": "v", "type": "quantitative", "axis": {"values": [10000, 1000, 100], "labelOverlap": false, "labelFontSize": 11.5, "labelExpr": "datum.value == 10000 ? '10⁴' : datum.value == 1000 ? '10³' : '10²'", "title": null}}}},
   {"data": {"values": [
     {"day":0.0,"v":302},{"day":0.085,"v":245},{"day":0.214,"v":155},{"day":0.342,"v":165},{"day":0.47,"v":245},{"day":0.598,"v":427},{"day":0.684,"v":1175},{"day":0.769,"v":2340},{"day":0.855,"v":2690},{"day":0.94,"v":2190},{"day":1.026,"v":1660},{"day":1.128,"v":302},{"day":1.197,"v":740},{"day":1.282,"v":650},{"day":1.453,"v":1020},{"day":1.709,"v":2510},{"day":1.966,"v":2040},{"day":2.222,"v":1260},{"day":2.479,"v":740},{"day":2.59,"v":3300},{"day":2.735,"v":980},{"day":2.906,"v":372},{"day":3.034,"v":110},{"day":3.145,"v":28},{"day":3.18,"v":24},{"day":3.248,"v":78},{"day":3.419,"v":95},{"day":3.59,"v":110},{"day":3.761,"v":215},{"day":3.889,"v":427},{"day":4.017,"v":245},{"day":4.188,"v":78},{"day":4.274,"v":19},{"day":4.316,"v":55},{"day":4.359,"v":14},{"day":4.444,"v":40},{"day":4.615,"v":95},{"day":4.786,"v":186},{"day":4.915,"v":245},{"day":5.043,"v":33},{"day":5.085,"v":78},{"day":5.128,"v":19},{"day":5.214,"v":48},{"day":5.299,"v":40},{"day":5.385,"v":155},{"day":5.513,"v":427},{"day":5.726,"v":850},{"day":5.897,"v":560},{"day":6.068,"v":245},{"day":6.239,"v":215},{"day":6.496,"v":372},{"day":6.752,"v":650},{"day":6.86,"v":640},{"day":7.03,"v":372},{"day":7.2,"v":186},{"day":7.37,"v":324},{"day":7.67,"v":740},{"day":7.89,"v":372},{"day":8.14,"v":162},{"day":8.36,"v":117},{"day":8.57,"v":230},{"day":8.83,"v":640},{"day":8.95,"v":324},{"day":8.99,"v":30},{"day":9.04,"v":11},{"day":9.1,"v":42},{"day":9.17,"v":15},{"day":9.25,"v":30},{"day":9.34,"v":19},{"day":9.42,"v":30},{"day":9.6,"v":117},{"day":9.68,"v":280},{"day":9.85,"v":186},{"day":10.02,"v":95},{"day":10.24,"v":30},{"day":10.36,"v":55},{"day":10.62,"v":162},{"day":10.79,"v":186},{"day":10.96,"v":140},{"day":11.13,"v":70},{"day":11.3,"v":42},{"day":11.48,"v":70},{"day":11.65,"v":186},{"day":11.82,"v":640},{"day":11.9,"v":372},{"day":11.96,"v":21},{"day":12.0,"v":5},{"day":12.6,"v":6},{"day":12.7,"v":14},{"day":12.8,"v":18},{"day":12.9,"v":13},{"day":13.0,"v":6},{"day":13.5,"v":8},{"day":13.6,"v":16},{"day":13.7,"v":22},{"day":13.85,"v":18},{"day":14.0,"v":12},{"day":14.1,"v":6},{"day":14.45,"v":8},{"day":14.55,"v":18},{"day":14.7,"v":22},{"day":14.85,"v":26},{"day":15.0,"v":20}
    ]},
    "mark": {"type": "line", "color": "#0000ff", "strokeWidth": 1.8, "clip": true},
    "encoding": {"x": {"field": "day", "type": "quantitative"}, "y": {"field": "v", "type": "quantitative", "axis": {"values": [10000, 1000, 100], "labelOverlap": false, "labelFontSize": 11.5, "labelExpr": "datum.value == 10000 ? '10⁴' : datum.value == 1000 ? '10³' : '10²'", "title": null}}}},
   {"data": {"values": [{"day": 15, "v": 15800, "t": "rl"}]},
    "mark": {"type": "text", "align": "left", "dx": 4, "baseline": "middle", "fontSize": 9},
    "encoding": {"x": {"field": "day", "type": "quantitative"}, "y": {"field": "v", "type": "quantitative", "axis": {"values": [10000, 1000, 100], "labelOverlap": false, "labelFontSize": 11.5, "labelExpr": "datum.value == 10000 ? '10⁴' : datum.value == 1000 ? '10³' : '10²'", "title": null}}, "text": {"field": "t"}}}
  ]
 }
]
}
